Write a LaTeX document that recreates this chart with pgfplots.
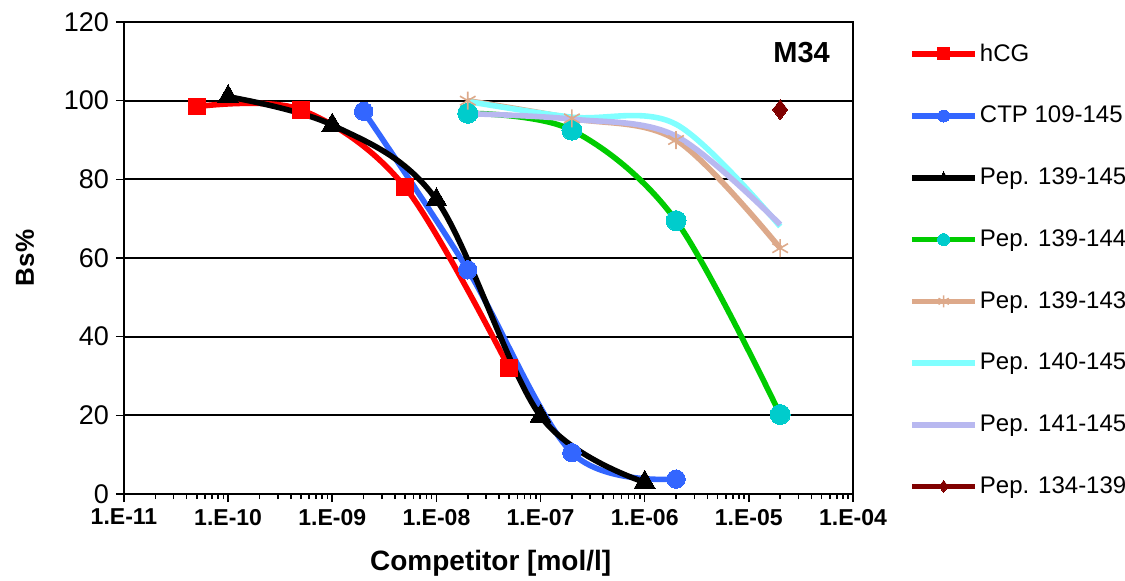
\documentclass[border=0pt]{standalone}
\usepackage{pgfplots}
\pgfplotsset{compat=1.18}
\usepackage{fontspec}
\setmainfont{Liberation Sans}

\definecolor{hcg}{HTML}{FF0000}
\definecolor{ctp}{HTML}{3366FF}
\definecolor{pgreen}{HTML}{00CC00}
\definecolor{pcyanmark}{HTML}{00CCCC}
\definecolor{ptan}{HTML}{DDA98A}
\definecolor{pcyan}{HTML}{80FFFF}
\definecolor{plav}{HTML}{B8B8F0}
\definecolor{pdark}{HTML}{800000}

\begin{document}
\begin{tikzpicture}
\begin{axis}[
    scale only axis,
    width=364.5pt, height=236pt,
    xmode=log,
    xmin=1e-11, xmax=1e-4,
    ymin=0, ymax=120,
    xtick={1e-11,1e-10,1e-9,1e-8,1e-7,1e-6,1e-5,1e-4},
    xticklabels={1.E-11,1.E-10,1.E-09,1.E-08,1.E-07,1.E-06,1.E-05,1.E-04},
    minor xtick={2e-11,3e-11,4e-11,5e-11,6e-11,7e-11,8e-11,9e-11,
                 2e-10,3e-10,4e-10,5e-10,6e-10,7e-10,8e-10,9e-10,
                 2e-9,3e-9,4e-9,5e-9,6e-9,7e-9,8e-9,9e-9,
                 2e-8,3e-8,4e-8,5e-8,6e-8,7e-8,8e-8,9e-8,
                 2e-7,3e-7,4e-7,5e-7,6e-7,7e-7,8e-7,9e-7,
                 2e-6,3e-6,4e-6,5e-6,6e-6,7e-6,8e-6,9e-6,
                 2e-5,3e-5,4e-5,5e-5,6e-5,7e-5,8e-5,9e-5},
    ytick={0,20,40,60,80,100,120},
    yticklabel style={/pgf/number format/assume math mode=true,
        font=\fontsize{13.5}{16}\selectfont},
    xticklabel style={font=\bfseries\fontsize{11.5}{14}\selectfont},
    tick align=outside,
    tick pos=left,
    major tick length=4pt,
    minor tick length=2.5pt,
    every tick/.style={black, line width=0.8pt},
    axis line style={line width=1pt},
    ymajorgrids=true,
    major grid style={black, line width=0.9pt},
    xlabel={\textbf{Competitor [mol/l]}},
    ylabel={\textbf{Bs\%}},
    xlabel style={font=\fontsize{14}{16}\selectfont, at={(axis description cs:0.503,-0.146)}, anchor=center},
    ylabel style={font=\fontsize{13}{15}\selectfont, at={(axis description cs:-0.136,0.5)}, anchor=center},
    legend style={draw=none, fill=none, at={(1.0768,0.4746)}, anchor=west,
        inner sep=0pt, row sep=19pt,
        font=\fontsize{12}{14}\selectfont,
        nodes={inner sep=1pt}},
    legend cell align=left,
    legend image code/.code={
        \draw[mark repeat=2,mark phase=2,#1,mark size=3pt]
            plot coordinates {(0pt,0pt) (15.75pt,0pt) (31.5pt,0pt)};
    },
    every axis plot/.append style={line width=2.8pt, smooth, tension=0.55},
]
\coordinate (sw) at (rel axis cs:0,0);
\coordinate (ne) at (rel axis cs:1,1);

% hCG
\addplot[color=hcg, mark=square*, mark size=4.2pt, mark options={solid, fill=hcg, line width=0pt}]
coordinates {(5e-11,98.5)(5e-10,97.7)(5e-9,78)(5e-8,32)};
% CTP 109-145
\addplot[color=ctp, mark=*, mark size=4.6pt, mark options={fill=ctp, line width=0pt}]
coordinates {(2e-9,97.3)(2e-8,57)(2e-7,10.5)(2e-6,3.8)};
% Pep. 139-145
\addplot[color=black, mark=triangle*, mark size=6pt, mark options={fill=black, line width=0pt}]
coordinates {(1e-10,101)(1e-9,93.8)(1e-8,74.8)(1e-7,19.8)(1e-6,3)};
% Pep. 139-144
\addplot[color=pgreen, mark=*, mark size=5pt, mark options={fill=pcyanmark, draw=pcyanmark, line width=0pt}]
coordinates {(2e-8,96.8)(2e-7,92.5)(2e-6,69.5)(2e-5,20.2)};
% Pep. 139-143
\addplot[color=ptan, mark=asterisk, mark size=4.5pt, mark options={line width=0.8pt}]
coordinates {(2e-8,100)(2e-7,95.5)(2e-6,90)(2e-5,62.5)};
% Pep. 140-145
\addplot[color=pcyan, no marks]
coordinates {(2e-8,99.8)(2e-7,95.8)(2e-6,94)(2e-5,68)};
% Pep. 141-145
\addplot[color=plav, no marks]
coordinates {(2e-8,96.7)(2e-7,95.3)(2e-6,91)(2e-5,68.5)};
% Pep. 134-139
\addplot[color=pdark, mark=diamond*, mark size=5pt, mark options={fill=pdark, line width=0pt}]
coordinates {(2e-5,97.7)};

\legend{hCG, CTP 109-145, Pep. 139-145, Pep. 139-144, Pep. 139-143, Pep. 140-145, Pep. 141-145, Pep. 134-139}

\node[anchor=east, font=\bfseries\fontsize{14.5}{16}\selectfont]
    at (rel axis cs:0.978,0.936) {M34};
\end{axis}
\pgfresetboundingbox
\path ([shift={(-62pt,-43pt)}]sw) rectangle ([shift={(136pt,11pt)}]ne);
\end{tikzpicture}
\end{document}
